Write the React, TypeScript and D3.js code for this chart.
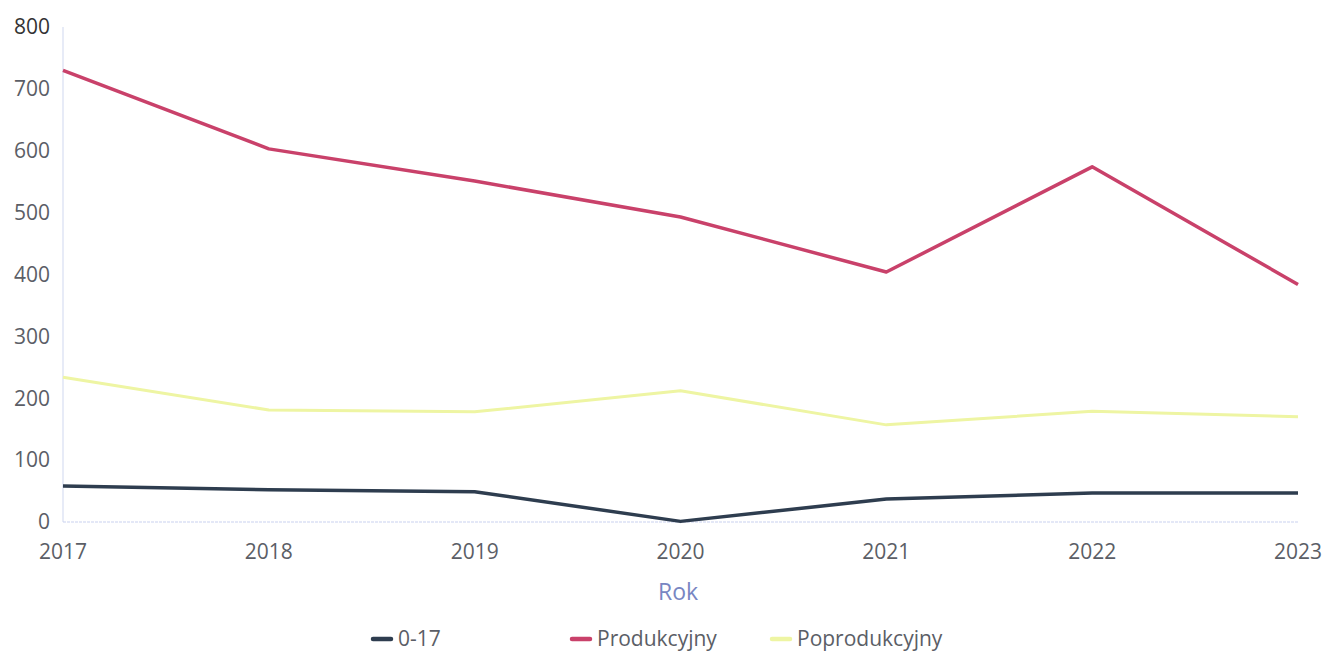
import React from "react";
import * as d3 from "d3";

const years = ["2017", "2018", "2019", "2020", "2021", "2022", "2023"];
const youth = [58, 52, 49, 1, 37, 47, 47];
const working = [730, 603, 551, 493, 404, 574, 384];
const retired = [234, 181, 178, 212, 157, 179, 170];
const yTicks = [0, 100, 200, 300, 400, 500, 600, 700, 800];
const seriesNames = ["0-17", "Produkcyjny", "Poprodukcyjny"];
const seriesColors = ["#2e3d4f", "#c9416a", "#eef5a3"];

const W = 1323;
const H = 652;
const left = 63;
const right = 1298;
const top = 27;
const bottom = 522;

export default function App() {
  const x = d3.scalePoint<string>().domain(years).range([left, right]);
  const y = d3.scaleLinear().domain([0, 800]).range([bottom, top]);
  const line = d3
    .line<number>()
    .x((_, i) => x(years[i]) as number)
    .y((d) => y(d));
  const data = [youth, working, retired];
  const font = "'Open Sans', 'Noto Sans', sans-serif";
  const legendX = [372, 571, 771];

  return (
    <svg
      width={W}
      height={H}
      style={{ position: "absolute", left: 0, top: 0, background: "#fff" }}
      fontFamily={font}
    >
      <line x1={left} x2={left} y1={top} y2={bottom} stroke="#dfe5f4" strokeWidth={1.5} />
      <line x1={left} x2={right} y1={bottom} y2={bottom} stroke="#c9d2f0" strokeWidth={1.2} strokeDasharray="3 1" />
      {yTicks.map((t) => (
        <text
          key={t}
          x={50}
          y={y(t)}
          dy="0.35em"
          textAnchor="end"
          fontSize={21}
          fill={t === 800 ? "#333" : "#5b5e66"}
        >
          {t}
        </text>
      ))}
      {years.map((yr) => (
        <text
          key={yr}
          x={x(yr) as number}
          y={552}
          dy="0.35em"
          textAnchor="middle"
          fontSize={21}
          fill="#5b5e66"
        >
          {yr}
        </text>
      ))}
      <text x={678} y={592} dy="0.35em" textAnchor="middle" fontSize={23} fill="#7886c2">
        Rok
      </text>
      {data.map((d, i) => (
        <path
          key={seriesNames[i]}
          d={line(d) as string}
          fill="none"
          stroke={seriesColors[i]}
          strokeWidth={i === 2 ? 3 : 3.5}
          strokeLinejoin="round"
        />
      ))}
      {seriesNames.map((n, i) => (
        <g key={n}>
          <line
            x1={legendX[i] + 1}
            x2={legendX[i] + 19}
            y1={639}
            y2={639}
            stroke={seriesColors[i]}
            strokeWidth={4.5}
            strokeLinecap="round"
          />
          <text x={legendX[i] + 26} y={639} dy="0.35em" fontSize={21} fill="#5b5e66">
            {n}
          </text>
        </g>
      ))}
    </svg>
  );
}
